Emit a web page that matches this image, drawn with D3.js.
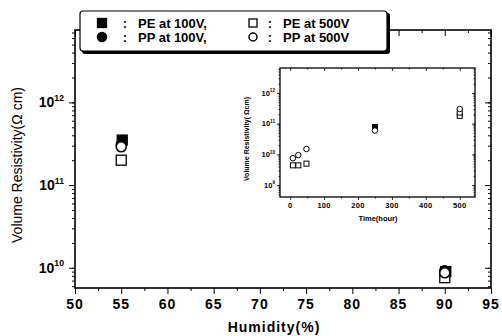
<!DOCTYPE html>
<html>
<head>
<meta charset="utf-8">
<script src="https://cdn.jsdelivr.net/npm/d3@7"></script>
<style>
  body { margin: 0; background: #fff; }
  text { font-family: "Liberation Sans", Arial, sans-serif; fill: #000; }
</style>
</head>
<body>
<div id="chart"></div>
<script>
// main chart: humidity (%) vs volume resistivity
var humidity = [55, 90];
var pe100 = [3.5e11, 9.0e9];
var pp100 = [3.1e11, 9.2e9];
var pe500 = [2.0e11, 7.6e9];
var pp500 = [2.9e11, 8.7e9];

var xTicks = [50, 55, 60, 65, 70, 75, 80, 85, 90, 95];
var yDecades = [10, 11, 12];

// inset: time (hour) vs volume resistivity
var insetTimeSq = [8, 24, 48, 500, 500];
var insetOpenSq = [4.4e9, 4.4e9, 5.0e9, 1.8e11, 2.3e11];
var insetTimeCi = [8, 24, 48, 250, 500];
var insetOpenCi = [7.5e9, 9.5e9, 1.5e10, 6.0e10, 3.0e11];
var insetTimeFill = [250];
var insetFillSq = [7.8e10];
var insetXTicks = [0, 100, 200, 300, 400, 500];
var insetDecades = [9, 10, 11, 12];

var legendItems = [
    {type: "fsq", label: "PE at 100V,"},
    {type: "osq", label: "PE at 500V"},
    {type: "fci", label: "PP at 100V,"},
    {type: "oci", label: "PP at 500V"}
];

var width = 502, height = 336;
var svg = d3.select("#chart").append("svg")
    .attr("width", width)
    .attr("height", height);

function logMinor(lo, hi) {
    var out = [];
    for (var d = Math.floor(Math.log10(lo)); d <= Math.ceil(Math.log10(hi)); d++) {
        for (var k = 1; k < 10; k++) {
            var v = k * Math.pow(10, d);
            if (v >= lo && v <= hi) out.push(v);
        }
    }
    return out;
}

function marker(g, type, cx, cy, s) {
    if (type == "fsq" || type == "osq") {
        g.append("rect")
            .attr("x", cx - s / 2).attr("y", cy - s / 2)
            .attr("width", s).attr("height", s)
            .attr("fill", type == "fsq" ? "#000" : "#fff")
            .attr("stroke", "#000").attr("stroke-width", s > 7 ? 1.3 : 1);
    } else {
        g.append("circle")
            .attr("cx", cx).attr("cy", cy).attr("r", s / 2)
            .attr("fill", type == "fci" ? "#000" : "#fff")
            .attr("stroke", "#000").attr("stroke-width", s > 7 ? 1.5 : 1);
    }
}

function drawFrame(g, x, y, opt) {
    var x0 = x.range()[0], x1 = x.range()[1];
    var y0 = y.range()[0], y1 = y.range()[1];
    var minorY = logMinor(y.domain()[0], y.domain()[1]);
    var majorY = opt.decades.map(function(d) { return Math.pow(10, d); });

    function axes(sel, ax) { sel.call(ax).select(".domain").remove(); }

    // bottom / top
    axes(g.append("g").attr("transform", "translate(0," + y0 + ")"),
        d3.axisBottom(x).tickValues(opt.xMinor).tickSize(opt.minor).tickFormat(""));
    axes(g.append("g").attr("transform", "translate(0," + y0 + ")"),
        d3.axisBottom(x).tickValues(opt.xTicks).tickSize(opt.major).tickFormat(""));
    axes(g.append("g").attr("transform", "translate(0," + y1 + ")"),
        d3.axisTop(x).tickValues(opt.xMinor).tickSize(-opt.minor).tickFormat(""));
    axes(g.append("g").attr("transform", "translate(0," + y1 + ")"),
        d3.axisTop(x).tickValues(opt.xTicks).tickSize(-opt.major).tickFormat(""));
    // left / right
    axes(g.append("g").attr("transform", "translate(" + x0 + ",0)"),
        d3.axisLeft(y).tickValues(minorY).tickSize(opt.minor).tickFormat(""));
    axes(g.append("g").attr("transform", "translate(" + x0 + ",0)"),
        d3.axisLeft(y).tickValues(majorY).tickSize(opt.major).tickFormat(""));
    axes(g.append("g").attr("transform", "translate(" + x1 + ",0)"),
        d3.axisRight(y).tickValues(minorY).tickSize(-opt.minor).tickFormat(""));
    axes(g.append("g").attr("transform", "translate(" + x1 + ",0)"),
        d3.axisRight(y).tickValues(majorY).tickSize(-opt.major).tickFormat(""));
    g.selectAll(".tick line").attr("stroke", "#000").attr("stroke-width", opt.tw);

    g.append("rect")
        .attr("x", x0).attr("y", y1)
        .attr("width", x1 - x0).attr("height", y0 - y1)
        .attr("fill", "none").attr("stroke", "#000").attr("stroke-width", opt.fw);

    // tick labels
    g.append("g").selectAll("text")
        .data(opt.xTicks)
        .enter().append("text")
        .attr("x", function(d) { return x(d); })
        .attr("y", y0 + opt.xLabOff)
        .attr("text-anchor", "middle")
        .style("font-size", opt.fs + "px")
        .style("font-weight", "bold")
        .style("letter-spacing", opt.ls + "px")
        .text(function(d) { return d; });

    var yl = g.append("g").selectAll("text")
        .data(opt.decades)
        .enter().append("text")
        .attr("x", x0 - opt.yLabOff)
        .attr("y", function(d) { return y(Math.pow(10, d)) + opt.fs * 0.35; })
        .attr("text-anchor", "end")
        .style("font-size", opt.fs + "px")
        .style("font-weight", "bold");
    yl.append("tspan").text("10");
    yl.append("tspan")
        .attr("dy", -opt.fs * 0.45)
        .style("font-size", (opt.fs * 0.62) + "px")
        .text(function(d) { return d; });
}

// ---------- main plot ----------
var x = d3.scaleLinear().domain([50, 95]).range([75, 491]);
var y = d3.scaleLog().domain([5.7e9, 7.5e12]).range([288, 30]);
var main = svg.append("g");

drawFrame(main, x, y, {
    xTicks: xTicks, xMinor: d3.range(52.5, 95, 5), decades: yDecades,
    major: 6, minor: 3, tw: 1, fw: 1.6, fs: 14, ls: 1, xLabOff: 21, yLabOff: 11
});

var series = [
    {type: "fsq", vals: pe100},
    {type: "fci", vals: pp100},
    {type: "osq", vals: pe500},
    {type: "oci", vals: pp500}
];
var pts = main.append("g");
series.forEach(function(s) {
    s.vals.forEach(function(v, i) {
        marker(pts, s.type, x(humidity[i]) + (s.type == "fsq" ? 1 : 0), y(v), 10);
    });
});

main.append("text")
    .attr("transform", "translate(22,165) rotate(-90)")
    .attr("text-anchor", "middle")
    .style("font-size", "14px")
    .text("Volume Resistivity(\u03a9 cm)");

main.append("text")
    .attr("x", 274).attr("y", 332)
    .attr("text-anchor", "middle")
    .style("font-size", "14px")
    .style("font-weight", "bold")
    .style("letter-spacing", "1px")
    .text("Humidity(%)");

// ---------- legend ----------
var leg = svg.append("g");
leg.append("rect")
    .attr("x", 82).attr("y", 13).attr("width", 308).attr("height", 41)
    .attr("rx", 3).attr("fill", "#000");
leg.append("rect")
    .attr("x", 80).attr("y", 11).attr("width", 307).attr("height", 40)
    .attr("rx", 3).attr("fill", "#fff").attr("stroke", "#000").attr("stroke-width", 1.2);

var colMark = [102, 253], colColon = [125, 270], colText = [138, 283];
legendItems.forEach(function(it, i) {
    var c = i % 2, cy = 23 + Math.floor(i / 2) * 14;
    marker(leg, it.type, colMark[c], cy, it.type.charAt(0) == "f" ? 9 : 8);
    leg.append("text").attr("x", colColon[c]).attr("y", cy + 5)
        .attr("text-anchor", "middle")
        .style("font-size", "13px").style("font-weight", "bold").text(":");
    leg.append("text").attr("x", colText[c]).attr("y", cy + 5)
        .style("font-size", "13px").style("font-weight", "bold").text(it.label);
});

// ---------- inset ----------
var ix = d3.scaleLinear().domain([-30, 545]).range([280, 475]);
var iy = d3.scaleLog().domain([4.1e8, 6.5e12]).range([197, 68]);
var inset = svg.append("g");
inset.append("rect")
    .attr("x", 280).attr("y", 68).attr("width", 195).attr("height", 129)
    .attr("fill", "#fff");

drawFrame(inset, ix, iy, {
    xTicks: insetXTicks, xMinor: d3.range(50, 545, 100), decades: insetDecades,
    major: 3, minor: 1.5, tw: 0.8, fw: 1.3, fs: 7.5, ls: 0.3, xLabOff: 11, yLabOff: 5
});

var ipts = inset.append("g");
insetOpenSq.forEach(function(v, i) { marker(ipts, "osq", ix(insetTimeSq[i]), iy(v), 5); });
insetFillSq.forEach(function(v, i) { marker(ipts, "fsq", ix(insetTimeFill[i]), iy(v), 5); });
insetOpenCi.forEach(function(v, i) { marker(ipts, "oci", ix(insetTimeCi[i]), iy(v), 5.5); });

inset.append("text")
    .attr("transform", "translate(249,139) rotate(-90)")
    .attr("text-anchor", "middle")
    .style("font-size", "7px")
    .style("font-weight", "bold")
    .text("Volume Resistivity( \u03a9cm)");

inset.append("text")
    .attr("x", 378).attr("y", 221)
    .attr("text-anchor", "middle")
    .style("font-size", "7.5px")
    .style("font-weight", "bold")
    .text("Time(hour)");
</script>
</body>
</html>
